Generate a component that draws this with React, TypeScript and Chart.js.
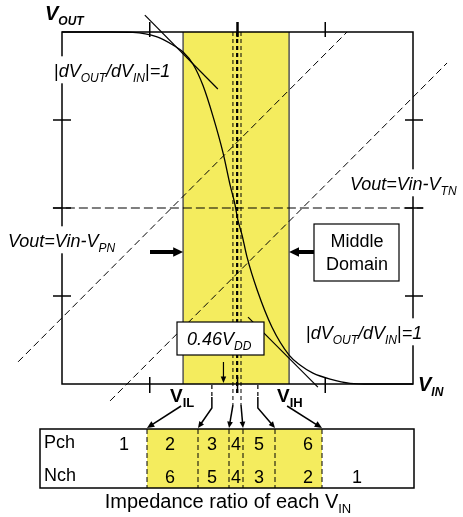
import React, { useEffect, useRef } from "react";
import { Chart, registerables } from "chart.js";

Chart.register(...registerables);

const FONT = "'Liberation Sans', Arial, Helvetica, sans-serif";
const YELLOW = "#F4EC5E";

// Inverter transfer curve, both axes normalised to VDD
const vtcVin = [0, 0.137, 0.202, 0.271, 0.316, 0.345, 0.373, 0.402, 0.43, 0.459, 0.479, 0.493, 0.501, 0.513, 0.527, 0.556, 0.598, 0.647, 0.678, 0.715, 0.764, 0.821, 0.877, 1];
const vtcVout = [1, 1, 0.999, 0.986, 0.963, 0.943, 0.909, 0.847, 0.761, 0.656, 0.565, 0.509, 0.466, 0.423, 0.361, 0.267, 0.162, 0.082, 0.054, 0.031, 0.014, 0.002, 0, 0];

// Unity-gain points of the transfer curve
const VIL = 0.345;
const VIH = 0.647;
const VM_LABEL = 0.46;

// Saturation boundaries Vout = Vin - Vt
const VTN = 0.185;
const VPN = -0.188;
const tnLineVin = [0.137, 1.097];
const pnLineVin = [-0.125, 0.812];

// |dVout/dVin| = 1 tangents
const tanHiVin = [0.236, 0.444];
const tanHiVout = [1.048, 0.838];
const tanLoVin = [0.53, 0.729];
const tanLoVout = [0.19, -0.009];

// Input levels marked under the axis, low to high
const vinMarks = [VIL, 0.427, 0.487, 0.51, 0.558, VIH];
const guideLines = [0.487, 0.51];
const vmLine = 0.499;

// Quarter ticks on every side of the frame
const frameTicks = [0.25, 0.5, 0.75];

// Impedance ratio in each of the seven input ranges
const pchRatio = ["1", "2", "3", "4", "5", "6", ""];
const nchRatio = ["", "6", "5", "4", "3", "2", "1"];

type Seg = { t: string; sub?: boolean; upright?: boolean };
type RichOpt = { size: number; sub: number; italic?: boolean; bold?: boolean; align?: "left" | "center"; bg?: boolean };

function fontOf(px: number, italic: boolean, bold: boolean) {
  return `${italic ? "italic " : ""}${bold ? "bold " : ""}${px}px ${FONT}`;
}

function drawRich(ctx: CanvasRenderingContext2D, segs: Seg[], x: number, y: number, o: RichOpt) {
  const italic = !!o.italic;
  const bold = !!o.bold;
  const parts = segs.map((s) => {
    const f = fontOf(s.sub ? o.sub : o.size, italic && !s.upright, bold);
    ctx.font = f;
    return { ...s, f, w: ctx.measureText(s.t).width };
  });
  const total = parts.reduce((a, p) => a + p.w, 0);
  let cx = o.align === "center" ? x - total / 2 : x;
  if (o.bg) {
    ctx.fillStyle = "#fff";
    ctx.fillRect(cx - 3, y - o.size * 1.15, total + 6, o.size * 1.5);
  }
  ctx.fillStyle = "#000";
  ctx.textAlign = "left";
  ctx.textBaseline = "alphabetic";
  for (const p of parts) {
    ctx.font = p.f;
    ctx.fillText(p.t, cx, p.sub ? y + o.size * 0.25 : y);
    cx += p.w;
  }
  return total;
}

function line(ctx: CanvasRenderingContext2D, x1: number, y1: number, x2: number, y2: number) {
  ctx.beginPath();
  ctx.moveTo(x1, y1);
  ctx.lineTo(x2, y2);
  ctx.stroke();
}

function arrow(ctx: CanvasRenderingContext2D, pts: number[][], head = 7, spread = 0.42) {
  const n = pts.length;
  const [x1, y1] = pts[n - 2];
  const [x2, y2] = pts[n - 1];
  const a = Math.atan2(y2 - y1, x2 - x1);
  ctx.beginPath();
  ctx.moveTo(pts[0][0], pts[0][1]);
  for (let i = 1; i < n - 1; i++) ctx.lineTo(pts[i][0], pts[i][1]);
  ctx.lineTo(x2 - head * 0.7 * Math.cos(a), y2 - head * 0.7 * Math.sin(a));
  ctx.stroke();
  ctx.beginPath();
  ctx.moveTo(x2, y2);
  ctx.lineTo(x2 - head * Math.cos(a - spread), y2 - head * Math.sin(a - spread));
  ctx.lineTo(x2 - head * Math.cos(a + spread), y2 - head * Math.sin(a + spread));
  ctx.closePath();
  ctx.fill();
}

const ratioSeg: Seg[] = [
  { t: "|", upright: true },
  { t: "dV" },
  { t: "OUT", sub: true },
  { t: "/dV" },
  { t: "IN", sub: true },
  { t: "|", upright: true },
  { t: "=1" },
];

const overlay = {
  id: "overlay",
  afterDraw(chart: any) {
    const ctx: CanvasRenderingContext2D = chart.ctx;
    const xs = chart.scales.x;
    const ys = chart.scales.y;
    const X = (v: number) => xs.getPixelForValue(v);
    const Y = (v: number) => ys.getPixelForValue(v);
    const L = X(0), R = X(1), T = Y(1), B = Y(0);

    ctx.save();
    ctx.strokeStyle = "#000";
    ctx.fillStyle = "#000";
    ctx.lineCap = "butt";

    // frame
    ctx.lineWidth = 1.5;
    ctx.strokeRect(L, T, R - L, B - T);

    // ticks
    for (const t of frameTicks) {
      ctx.lineWidth = t === 0.5 ? 2.5 : 1.5;
      line(ctx, X(t), T - 10, X(t), T + 5);
      ctx.lineWidth = 1.5;
      line(ctx, X(t), B - 7, X(t), B + 9);
      line(ctx, L - 9, Y(t), L + 9, Y(t));
      line(ctx, R - 8, Y(t), R + 10, Y(t));
    }

    // axis titles
    drawRich(ctx, [{ t: "V" }, { t: "OUT", sub: true }], 45, 20, { size: 20, sub: 12, italic: true, bold: true });
    drawRich(ctx, [{ t: "V" }, { t: "IN", sub: true }], 418, 391, { size: 20, sub: 12, italic: true, bold: true });

    // boundary labels
    drawRich(ctx, ratioSeg, 54, 77, { size: 18, sub: 12, italic: true, bg: true });
    drawRich(ctx, ratioSeg, 306, 339, { size: 18, sub: 12, italic: true, bg: true });
    drawRich(ctx, [{ t: "Vout=Vin-V" }, { t: "TN", sub: true }], 350, 190, { size: 18, sub: 12, italic: true, bg: true });
    drawRich(ctx, [{ t: "Vout=Vin-V" }, { t: "PN", sub: true }], 8, 247, { size: 18, sub: 12, italic: true, bg: true });

    // middle domain call-out
    const yArrow = Y(0.375);
    ctx.lineWidth = 1.2;
    ctx.fillStyle = "#fff";
    ctx.fillRect(314, 224, 85, 57);
    ctx.strokeRect(314, 224, 85, 57);
    ctx.fillStyle = "#000";
    ctx.font = fontOf(18, false, false);
    ctx.textAlign = "center";
    ctx.fillText("Middle", 357, 247);
    ctx.fillText("Domain", 357, 270);
    ctx.lineWidth = 4;
    arrow(ctx, [[150, yArrow], [X(VIL), yArrow]], 11, 0.45);
    arrow(ctx, [[314, yArrow], [X(VIH), yArrow]], 11, 0.45);

    // switching point call-out
    ctx.lineWidth = 1.2;
    ctx.fillStyle = "#fff";
    ctx.fillRect(177, 322, 87, 33);
    ctx.strokeRect(177, 322, 87, 33);
    drawRich(ctx, [{ t: "0.46V" }, { t: "DD", sub: true }], 187, 345, { size: 18, sub: 12, italic: true });
    ctx.lineWidth = 1.2;
    arrow(ctx, [[X(VM_LABEL), 362], [X(VM_LABEL), B - 1]], 7, 0.4);

    // VIL / VIH labels
    drawRich(ctx, [{ t: "V" }, { t: "IL", sub: true }], 170, 402, { size: 19, sub: 13, bold: true });
    drawRich(ctx, [{ t: "V" }, { t: "IH", sub: true }], 277, 402, { size: 19, sub: 13, bold: true });

    // table
    const tb = { l: 40, t: 429, r: 414, b: 488 };
    const edges = [147, 198, 229, 243, 275, 322];
    const cellX = [124, 170, 212, 236, 259, 308, 357];
    ctx.fillStyle = YELLOW;
    ctx.fillRect(edges[0], tb.t, edges[5] - edges[0], tb.b - tb.t);
    ctx.lineWidth = 1;
    ctx.setLineDash([5, 3]);
    for (const e of edges) line(ctx, e, tb.t, e, tb.b);
    ctx.setLineDash([]);
    ctx.lineWidth = 1.5;
    ctx.strokeRect(tb.l, tb.t, tb.r - tb.l, tb.b - tb.t);
    ctx.fillStyle = "#000";
    ctx.font = fontOf(18, false, false);
    ctx.textAlign = "left";
    ctx.fillText("Pch", 44, 448);
    ctx.fillText("Nch", 44, 481);
    ctx.textAlign = "center";
    cellX.forEach((cx, i) => {
      if (pchRatio[i]) ctx.fillText(pchRatio[i], cx, 450);
      if (nchRatio[i]) ctx.fillText(nchRatio[i], cx, 483);
    });
    drawRich(ctx, [{ t: "Impedance ratio of each V" }, { t: "IN", sub: true }], 228, 508, { size: 20, sub: 13, align: "center" });

    // leaders from each marked input level to the table columns
    const tip = tb.t - 1;
    ctx.lineWidth = 1.5;
    ctx.strokeStyle = "#000";
    ctx.fillStyle = "#000";
    vinMarks.forEach((v, i) => {
      const px = X(v);
      const e = edges[i];
      if (i === 0) {
        arrow(ctx, [[px - 2, 406], [e, tip]], 8);
      } else if (i === vinMarks.length - 1) {
        arrow(ctx, [[px - 2, 406], [e, tip]], 8);
      } else if (Math.abs(e - px) > 8) {
        ctx.setLineDash([4, 3]);
        ctx.lineWidth = 1.2;
        line(ctx, px, B + 1, px, B + 13);
        ctx.setLineDash([]);
        ctx.lineWidth = 1.5;
        arrow(ctx, [[px, B + 13], [px, B + 24], [e, tip]], 7);
      } else {
        arrow(ctx, [[px, B + 21], [e, tip]], 7);
      }
    });
    ctx.restore();
  },
};

export default function App() {
  const ref = useRef<HTMLCanvasElement>(null);

  useEffect(() => {
    const pts = (xv: number[], yv: number[]) => xv.map((x, i) => ({ x, y: yv[i] }));
    const base = { pointRadius: 0, borderColor: "#000", borderWidth: 1, fill: false, clip: false, tension: 0 };
    const chart = new Chart(ref.current as HTMLCanvasElement, {
      type: "line",
      data: {
        datasets: [
          { ...base, data: pts(vtcVin, vtcVout), borderWidth: 1.3, cubicInterpolationMode: "monotone" },
          { ...base, data: pts(tanHiVin, tanHiVout), borderWidth: 1.2 },
          { ...base, data: pts(tanLoVin, tanLoVout), borderWidth: 1.2 },
          { ...base, data: pnLineVin.map((x) => ({ x, y: x - VPN })), borderDash: [7, 4] },
          { ...base, data: tnLineVin.map((x) => ({ x, y: x - VTN })), borderDash: [7, 4] },
          { ...base, data: [{ x: -0.026, y: 0.5 }, { x: 1.03, y: 0.5 }], borderDash: [9, 4], borderWidth: 1.2 },
          ...guideLines.map((v) => ({ ...base, data: [{ x: v, y: 1 }, { x: v, y: -0.06 }], borderDash: [4, 3] })),
          { ...base, data: [{ x: vmLine, y: 1 }, { x: vmLine, y: -0.03 }], borderDash: [4, 3], borderWidth: 2.2 },
          { ...base, data: [{ x: VIL, y: 0 }, { x: VIL, y: 1 }], borderColor: "#555", borderWidth: 1.5, order: 5 },
          { ...base, data: [{ x: VIH, y: 0 }, { x: VIH, y: 1 }], borderColor: "#555", borderWidth: 1.5, order: 5 },
          { data: [{ x: VIL, y: 1 }, { x: VIH, y: 1 }], fill: "origin", backgroundColor: YELLOW, borderWidth: 0, pointRadius: 0, order: 10 },
        ] as any,
      },
      options: {
        responsive: false,
        animation: false,
        devicePixelRatio: 1,
        layout: { padding: { left: 62, right: 50, top: 32, bottom: 133 } },
        scales: {
          x: { type: "linear", min: 0, max: 1, display: false },
          y: { type: "linear", min: 0, max: 1, display: false },
        },
        plugins: { legend: { display: false }, tooltip: { enabled: false } },
      },
      plugins: [overlay],
    });
    return () => chart.destroy();
  }, []);

  return (
    <div style={{ position: "absolute", left: 0, top: 0, width: 463, height: 517, background: "#fff" }}>
      <canvas ref={ref} width={463} height={517} style={{ display: "block", width: 463, height: 517 }} />
    </div>
  );
}
